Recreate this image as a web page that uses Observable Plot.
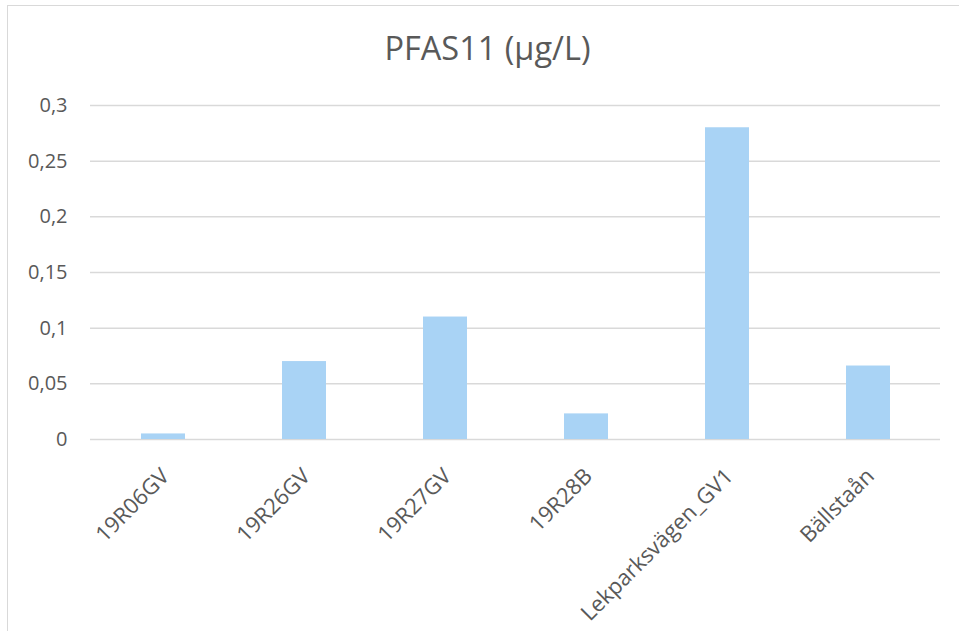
<!DOCTYPE html>
<html>
<head>
<meta charset="utf-8">
<script src="https://cdn.jsdelivr.net/npm/d3@7"></script>
<script src="https://cdn.jsdelivr.net/npm/@observablehq/plot@0.6"></script>
<style>
  html, body { margin: 0; padding: 0; background: #fff; overflow: hidden; }
  #wrap { position: relative; width: 959px; height: 631px; font-family: "Open Sans", sans-serif; }
  #frame { position: absolute; left: 7px; top: 5px; width: 970px; height: 640px; border: 1.5px solid #d9d9d9; box-sizing: border-box; }
  #title { position: absolute; left: 0; width: 975px; top: 24px; text-align: center; font-size: 32.5px; color: #595959; line-height: 48px; }
  #chart { position: absolute; left: 0; top: 0; }
</style>
</head>
<body>
<div id="wrap">
  <div id="frame"></div>
  <div id="chart"></div>
  <div id="title">PFAS11 (µg/L)</div>
</div>
<script>
const categories = ["19R06GV", "19R26GV", "19R27GV", "19R28B", "Lekparksvägen_GV1", "Bällstaån"];
const values = [0.005, 0.07, 0.11, 0.023, 0.28, 0.066];
const yTicks = [0, 0.05, 0.1, 0.15, 0.2, 0.25, 0.3];
const yTickLabels = ["0", "0,05", "0,1", "0,15", "0,2", "0,25", "0,3"];

const data = categories.map((name, i) => ({name, value: values[i]}));
const labelOf = new Map(yTicks.map((t, i) => [t, yTickLabels[i]]));

const chart = Plot.plot({
  width: 959,
  height: 631,
  marginLeft: 90,
  marginRight: 19,
  marginTop: 105,
  marginBottom: 192,
  style: {fontFamily: "Open Sans, sans-serif", background: "transparent"},
  x: {domain: categories, paddingInner: 0.69, paddingOuter: 0.345, axis: null},
  y: {domain: [0, 0.3], axis: null},
  marks: [
    Plot.ruleY(yTicks, {stroke: "#d9d9d9", strokeWidth: 1.5}),
    Plot.barY(data, {x: "name", y: "value", fill: "#a9d3f5"}),
    Plot.axisY({ticks: yTicks, tickFormat: d => labelOf.get(d), tickSize: 0, tickPadding: 23, fontSize: 20, color: "#595959", label: null}),
    Plot.text(data, {x: "name", text: "name", frameAnchor: "bottom", rotate: -45, textAnchor: "end", lineAnchor: "middle", dx: 2, dy: 33, fontSize: 22, fill: "#595959"})
  ]
});
document.getElementById("chart").appendChild(chart);
</script>
</body>
</html>
